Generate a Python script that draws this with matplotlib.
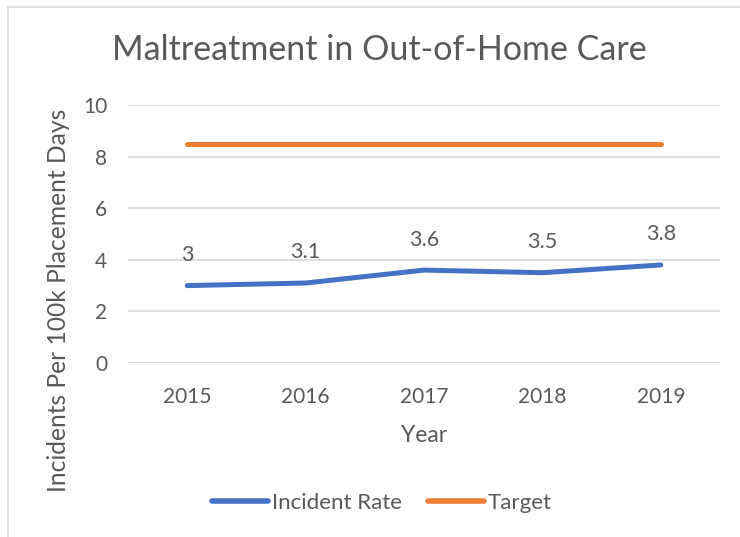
# Maltreatment in Out-of-Home Care - line chart, Excel style
import matplotlib.pyplot as plt
from matplotlib.lines import Line2D

years = ["2015", "2016", "2017", "2018", "2019"]
incident_rate = [3.0, 3.1, 3.6, 3.5, 3.8]
target = [8.5, 8.5, 8.5, 8.5, 8.5]
rate_labels = ["3", "3.1", "3.6", "3.5", "3.8"]

text_col = "#595959"
blue = "#4472C4"
orange = "#ED7D31"
plt.rcParams["font.family"] = ["Lato", "DejaVu Sans"]

fig = plt.figure(figsize=(7.4, 5.37), dpi=100)
ax = fig.add_axes([128 / 740, 174 / 537, 592 / 740, 258 / 537])

x = list(range(len(years)))
ax.plot(x, incident_rate, color=blue, lw=3.6, solid_capstyle="round", label="Incident Rate")
ax.plot(x, target, color=orange, lw=3.6, solid_capstyle="round", label="Target")

for xi, v, lab in zip(x, incident_rate, rate_labels):
    ax.annotate(lab, (xi, v), xytext=(0, 22), textcoords="offset points",
                ha="center", va="center", fontsize=15.5, color=text_col)

ax.set_xlim(-0.5, len(years) - 0.5)
ax.set_ylim(0, 10)
ax.set_yticks([0, 2, 4, 6, 8, 10])
ax.set_xticks(x)
ax.set_xticklabels(years)
ax.grid(axis="y", color="#D9D9D9", lw=1.2)
ax.set_axisbelow(True)
for s in ax.spines.values():
    s.set_visible(False)
ax.tick_params(length=0, labelsize=15, colors=text_col)
ax.tick_params(axis="x", pad=17)
ax.tick_params(axis="y", pad=15)

ax.set_xlabel("Year", fontsize=16.5, color=text_col, labelpad=13)
ax.set_ylabel("Incidents Per 100k Placement Days", fontsize=17.7, color=text_col, va="center")
ax.yaxis.set_label_coords(-0.1174, 0.244)

fig.text(379 / 740, 1 - 50 / 537, "Maltreatment in Out-of-Home Care",
         ha="center", va="center", fontsize=24.5, color=text_col)

handles = [Line2D([], [], color=blue, lw=4, solid_capstyle="round"),
           Line2D([], [], color=orange, lw=4, solid_capstyle="round")]
fig.legend(handles, ["Incident Rate", "Target"], loc="center",
           bbox_to_anchor=(382 / 740, 1 - 503 / 537), ncol=2, frameon=False,
           fontsize=16, labelcolor=text_col, handlelength=2.5,
           handletextpad=0.18, columnspacing=1.2)

# chart border (top and left visible in the reference)
fig.add_artist(Line2D([8 / 740, 8 / 740], [0, 1 - 7 / 537], color="#D9D9D9", lw=1.2))
fig.add_artist(Line2D([8 / 740, 1], [1 - 7 / 537, 1 - 7 / 537], color="#D9D9D9", lw=1.2))

fig.savefig("out.png", dpi=100)
